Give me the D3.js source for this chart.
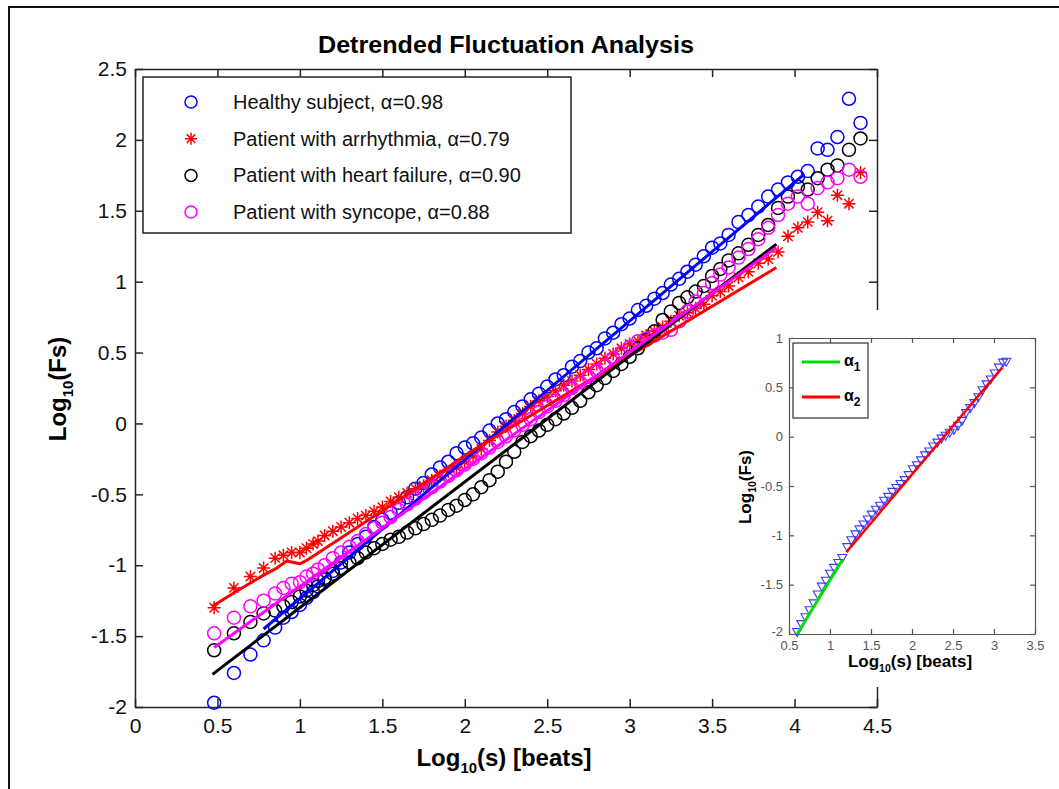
<!DOCTYPE html>
<html>
<head>
<meta charset="utf-8">
<script src="https://cdn.jsdelivr.net/npm/d3@7"></script>
<style>
  body { margin: 0; background: #fff; }
  svg { display: block; font-family: "Liberation Sans", Arial, sans-serif; }
</style>
</head>
<body>
<div class="chart-container"></div>
<script>
// ---- data ----
// shared log10(s) grid for the four DFA curves
const logS = [0.48, 0.60, 0.70, 0.78, 0.85, 0.90, 0.95, 1.00, 1.04, 1.08, 1.11,
  1.15, 1.20, 1.25, 1.30, 1.35, 1.40, 1.45, 1.50, 1.55, 1.60, 1.65, 1.70, 1.75, 1.80, 1.85,
  1.90, 1.95, 2.00, 2.05, 2.10, 2.15, 2.20, 2.25, 2.30, 2.35, 2.40, 2.45, 2.50, 2.55, 2.60,
  2.65, 2.70, 2.75, 2.80, 2.85, 2.90, 2.95, 3.00, 3.05, 3.10, 3.15, 3.20, 3.25, 3.30, 3.35,
  3.40, 3.45, 3.50, 3.55, 3.60,
  3.66, 3.72, 3.78, 3.84, 3.90, 3.96, 4.02, 4.08, 4.14, 4.20, 4.26, 4.33, 4.40];

const healthy = [-1.97, -1.76, -1.63, -1.53, -1.44, -1.37, -1.33, -1.28, -1.23, -1.19, -1.15,
  -1.10, -1.04, -0.98, -0.91, -0.85, -0.80, -0.73, -0.68, -0.63, -0.56, -0.52, -0.46, -0.42, -0.36, -0.31,
  -0.27, -0.21, -0.17, -0.14, -0.10, -0.05, 0.00, 0.03, 0.08, 0.12, 0.17, 0.21, 0.26, 0.31, 0.34,
  0.40, 0.44, 0.50, 0.53, 0.60, 0.64, 0.70, 0.74, 0.80, 0.83, 0.88, 0.92, 0.98, 1.02, 1.07,
  1.12, 1.18, 1.24, 1.27, 1.33,
  1.42, 1.47, 1.53, 1.60, 1.65, 1.70, 1.74, 1.78, 1.94, 1.93, 2.02, 2.29, 2.12];

const arrhythmia = [-1.30, -1.16, -1.08, -1.02, -0.95, -0.93, -0.91, -0.91, -0.88, -0.85, -0.83,
  -0.79, -0.76, -0.73, -0.70, -0.67, -0.65, -0.62, -0.59, -0.55, -0.52, -0.49, -0.46, -0.44, -0.40, -0.37,
  -0.34, -0.31, -0.27, -0.23, -0.18, -0.12, -0.06, -0.02, 0.02, 0.07, 0.12, 0.16, 0.19, 0.23, 0.27,
  0.30, 0.34, 0.38, 0.42, 0.46, 0.49, 0.53, 0.56, 0.58, 0.62, 0.65, 0.68, 0.72, 0.76, 0.78,
  0.81, 0.84, 0.90, 0.93, 0.97,
  1.03, 1.07, 1.13, 1.16, 1.21, 1.32, 1.38, 1.42, 1.49, 1.43, 1.61, 1.55, 1.77];

const heartFailure = [-1.60, -1.48, -1.40, -1.34, -1.32, -1.29, -1.26, -1.22, -1.18, -1.14, -1.11,
  -1.09, -1.06, -1.02, -0.98, -0.95, -0.91, -0.88, -0.85, -0.82, -0.80, -0.77, -0.74, -0.71, -0.68, -0.65,
  -0.61, -0.58, -0.54, -0.50, -0.45, -0.40, -0.34, -0.27, -0.20, -0.13, -0.09, -0.05, -0.01, 0.03, 0.07,
  0.11, 0.16, 0.22, 0.27, 0.32, 0.37, 0.42, 0.47, 0.53, 0.59, 0.65, 0.73, 0.79, 0.85, 0.89,
  0.93, 0.97, 1.04, 1.09, 1.15,
  1.20, 1.26, 1.33, 1.40, 1.52, 1.60, 1.67, 1.65, 1.73, 1.79, 1.82, 1.93, 2.01];

const syncope = [-1.48, -1.37, -1.29, -1.25, -1.20, -1.16, -1.13, -1.12, -1.08, -1.06, -1.03,
  -1.00, -0.95, -0.91, -0.87, -0.83, -0.78, -0.74, -0.70, -0.66, -0.61, -0.57, -0.53, -0.49, -0.45, -0.41,
  -0.37, -0.33, -0.29, -0.25, -0.21, -0.17, -0.13, -0.09, -0.05, -0.01, 0.03, 0.08, 0.12, 0.16, 0.20,
  0.25, 0.29, 0.33, 0.37, 0.41, 0.46, 0.50, 0.54, 0.58, 0.60, 0.62, 0.64, 0.66, 0.72, 0.79,
  0.86, 0.92, 0.99, 1.05, 1.10,
  1.17, 1.23, 1.30, 1.38, 1.47, 1.55, 1.60, 1.55, 1.66, 1.70, 1.73, 1.79, 1.74];

// fitted lines, [log10(s), log10(Fs)] vertices
const healthyFit = [[0.78, -1.45], [4.05, 1.75]];
const arrhythmiaFit = [[0.47, -1.29], [0.62, -1.18], [0.78, -1.07], [0.86, -1.02], [0.92, -0.97],
  [1.00, -0.99], [1.05, -0.96], [1.60, -0.54], [2.05, -0.19], [3.89, 1.10]];
const heartFailureFit = [[0.47, -1.77], [3.89, 1.265]];
const syncopeFit = [[0.48, -1.58], [3.89, 1.24]];

const legendLabels = ["Healthy subject, α=0.98", "Patient with arrhythmia, α=0.79",
  "Patient with heart failure, α=0.90", "Patient with syncope, α=0.88"];

// inset: one subject, short-range (alpha1) and long-range (alpha2) parts
const insetShortX = [0.60, 0.65, 0.70, 0.75, 0.80, 0.85, 0.90, 0.95, 1.00, 1.05, 1.10, 1.15];
const insetShortY = [-1.98, -1.90, -1.83, -1.76, -1.69, -1.60, -1.52, -1.46, -1.39, -1.33, -1.28, -1.23];
const insetLongX = [1.21, 1.26, 1.31, 1.36, 1.41, 1.46, 1.51, 1.56, 1.61, 1.66, 1.71, 1.76, 1.81, 1.86,
  1.91, 1.96, 2.01, 2.06, 2.11, 2.16, 2.21, 2.26, 2.31, 2.36, 2.41, 2.46, 2.51, 2.56, 2.61, 2.66,
  2.71, 2.76, 2.81, 2.86, 2.91, 2.96, 3.01, 3.06, 3.11, 3.15];
const insetLongY = [-1.12, -1.05, -0.99, -0.94, -0.89, -0.84, -0.79, -0.74, -0.70, -0.65, -0.61, -0.56,
  -0.52, -0.48, -0.44, -0.39, -0.33, -0.29, -0.24, -0.19, -0.15, -0.10, -0.06, -0.02, 0.01, 0.04,
  0.07, 0.11, 0.16, 0.24, 0.29, 0.34, 0.40, 0.47, 0.53, 0.58, 0.64, 0.70, 0.75, 0.76];
const alpha1Fit = [[0.60, -2.00], [1.15, -1.25]];
const alpha2Fit = [[1.20, -1.17], [3.10, 0.70]];

const mainXTicks = [0, 0.5, 1, 1.5, 2, 2.5, 3, 3.5, 4, 4.5];
const mainYTicks = [-2, -1.5, -1, -0.5, 0, 0.5, 1, 1.5, 2, 2.5];
const insetXTicks = [0.5, 1, 1.5, 2, 2.5, 3, 3.5];
const insetYTicks = [-2, -1.5, -1, -0.5, 0, 0.5, 1];

// ---- svg ----
const width = 1059, height = 789;
const svg = d3.select(".chart-container")
  .append("svg")
  .attr("width", width)
  .attr("height", height);

svg.append("rect").attr("width", width).attr("height", height).attr("fill", "#fff");

// outer figure frame (only top and left edges show)
svg.append("path")
  .attr("d", `M9,${height} V7 H${width}`)
  .attr("fill", "none")
  .attr("stroke", "#111")
  .attr("stroke-width", 2);

// ---- main axes ----
const box = {left: 135, right: 877, top: 69, bottom: 707};

const xScale = d3.scaleLinear().domain([0, 4.5]).range([box.left, box.right]);
const yScale = d3.scaleLinear().domain([-2, 2.5]).range([box.bottom, box.top]);
const fmt = d => String(d);

const styleAxis = (g, fontSize) => {
  g.select(".domain").attr("stroke", "#222").attr("stroke-width", 1.5);
  g.selectAll(".tick line").attr("stroke", "#222").attr("stroke-width", 1.5);
  g.selectAll(".tick text")
    .attr("fill", "#111")
    .attr("font-size", fontSize)
    .attr("font-family", "'Liberation Sans', Arial, sans-serif");
};

svg.append("g")
  .attr("transform", `translate(0,${box.bottom})`)
  .call(d3.axisBottom(xScale).tickValues(mainXTicks).tickFormat(fmt).tickSize(-8).tickSizeOuter(0).tickPadding(11))
  .call(g => styleAxis(g, 21));

svg.append("g")
  .attr("transform", `translate(${box.left},0)`)
  .call(d3.axisLeft(yScale).tickValues(mainYTicks).tickFormat(fmt).tickSize(-8).tickSizeOuter(0).tickPadding(8))
  .call(g => styleAxis(g, 21));

svg.append("g")
  .attr("transform", `translate(0,${box.top})`)
  .call(d3.axisTop(xScale).tickValues(mainXTicks).tickFormat("").tickSize(-8).tickSizeOuter(0))
  .call(g => styleAxis(g, 21));

svg.append("g")
  .attr("transform", `translate(${box.right},0)`)
  .call(d3.axisRight(yScale).tickValues(mainYTicks).tickFormat("").tickSize(-8).tickSizeOuter(0))
  .call(g => styleAxis(g, 21));

// ---- markers ----
const plot = svg.append("g");

const circleSeries = (vals, color) => {
  plot.append("g")
    .selectAll("circle")
    .data(d3.zip(logS, vals))
    .join("circle")
      .attr("cx", d => xScale(d[0]))
      .attr("cy", d => yScale(d[1]))
      .attr("r", 6.5)
      .attr("fill", "none")
      .attr("stroke", color)
      .attr("stroke-width", 1.5);
};

// matlab style '*' marker
const starPath = s => {
  const k = s * 0.72;
  return `M${-s},0H${s}M0,${-s}V${s}M${-k},${-k}L${k},${k}M${-k},${k}L${k},${-k}`;
};

circleSeries(healthy, "#0000ff");

plot.append("g")
  .selectAll("path")
  .data(d3.zip(logS, arrhythmia))
  .join("path")
    .attr("transform", d => `translate(${xScale(d[0])},${yScale(d[1])})`)
    .attr("d", starPath(6.5))
    .attr("stroke", "#ff0000")
    .attr("stroke-width", 1.5);

circleSeries(heartFailure, "#000000");
circleSeries(syncope, "#ff00ff");

// ---- fitted lines ----
const lineGenerator = d3.line()
  .x(d => xScale(d[0]))
  .y(d => yScale(d[1]));

[[healthyFit, "#0000ff"], [arrhythmiaFit, "#ff0000"], [heartFailureFit, "#000000"], [syncopeFit, "#ff00ff"]]
  .forEach(([pts, color]) => {
    plot.append("path")
      .attr("d", lineGenerator(pts))
      .attr("fill", "none")
      .attr("stroke", color)
      .attr("stroke-width", 3)
      .attr("stroke-linejoin", "round");
  });

// ---- legend ----
const legend = svg.append("g");
legend.append("rect")
  .attr("x", 143).attr("y", 77)
  .attr("width", 428).attr("height", 156)
  .attr("fill", "#fff")
  .attr("stroke", "#222")
  .attr("stroke-width", 1.5);

const legendColors = ["#0000ff", "#ff0000", "#000000", "#ff00ff"];
legendLabels.forEach((label, i) => {
  const y = 102 + i * 36.7;
  if (i === 1) {
    legend.append("path")
      .attr("transform", `translate(191,${y})`)
      .attr("d", starPath(6))
      .attr("stroke", legendColors[i])
      .attr("stroke-width", 1.5);
  } else {
    legend.append("circle")
      .attr("cx", 191).attr("cy", y).attr("r", 6)
      .attr("fill", "none")
      .attr("stroke", legendColors[i])
      .attr("stroke-width", 1.5);
  }
  legend.append("text")
    .attr("x", 233).attr("y", y)
    .attr("dominant-baseline", "central")
    .attr("font-size", 20)
    .attr("fill", "#111")
    .text(label);
});

// ---- titles and axis labels ----
svg.append("text")
  .attr("x", 506).attr("y", 53)
  .attr("text-anchor", "middle")
  .attr("font-size", 23)
  .attr("font-weight", "bold")
  .attr("textLength", 376)
  .attr("lengthAdjust", "spacingAndGlyphs")
  .text("Detrended Fluctuation Analysis");

const subLabel = (sel, main, sub, rest, size) => {
  sel.append("tspan").text(main);
  sel.append("tspan").attr("font-size", size * 0.62).attr("dy", size * 0.3).text(sub);
  sel.append("tspan").attr("dy", -size * 0.3).text(rest);
};

svg.append("text")
  .attr("x", 504).attr("y", 766)
  .attr("text-anchor", "middle")
  .attr("font-size", 24)
  .attr("font-weight", "bold")
  .call(t => subLabel(t, "Log", "10", "(s) [beats]", 24));

svg.append("text")
  .attr("transform", "translate(66,389) rotate(-90)")
  .attr("text-anchor", "middle")
  .attr("font-size", 24)
  .attr("font-weight", "bold")
  .call(t => subLabel(t, "Log", "10", "(Fs)", 24));

// ---- inset ----
const inset = svg.append("g");
inset.append("rect")
  .attr("x", 733).attr("y", 310)
  .attr("width", width - 733).attr("height", 377)
  .attr("fill", "#fff");

const ibox = {left: 789, right: 1035, top: 338, bottom: 634};
const ix = d3.scaleLinear().domain([0.5, 3.5]).range([ibox.left, ibox.right]);
const iy = d3.scaleLinear().domain([-2, 1]).range([ibox.bottom, ibox.top]);

const styleInset = g => {
  g.select(".domain").attr("stroke", "#555").attr("stroke-width", 1.2);
  g.selectAll(".tick line").attr("stroke", "#555").attr("stroke-width", 1.2);
  g.selectAll(".tick text")
    .attr("fill", "#555")
    .attr("font-size", 13)
    .attr("font-family", "'Liberation Sans', Arial, sans-serif");
};

inset.append("g")
  .attr("transform", `translate(0,${ibox.bottom})`)
  .call(d3.axisBottom(ix).tickValues(insetXTicks).tickFormat(fmt).tickSize(-5).tickSizeOuter(0).tickPadding(7))
  .call(styleInset);
inset.append("g")
  .attr("transform", `translate(${ibox.left},0)`)
  .call(d3.axisLeft(iy).tickValues(insetYTicks).tickFormat(fmt).tickSize(-5).tickSizeOuter(0).tickPadding(6))
  .call(styleInset)
  .call(g => g.selectAll(".tick text").filter(d => d === -2).attr("dy", "0.1em"));
inset.append("g")
  .attr("transform", `translate(0,${ibox.top})`)
  .call(d3.axisTop(ix).tickValues(insetXTicks).tickFormat("").tickSize(-5).tickSizeOuter(0))
  .call(styleInset);
inset.append("g")
  .attr("transform", `translate(${ibox.right},0)`)
  .call(d3.axisRight(iy).tickValues(insetYTicks).tickFormat("").tickSize(-5).tickSizeOuter(0))
  .call(styleInset);

// downward triangles
const triangle = "M-4.5,-3.5L4.5,-3.5L0,4.5Z";
inset.append("g")
  .selectAll("path")
  .data(d3.zip(insetShortX, insetShortY).concat(d3.zip(insetLongX, insetLongY)))
  .join("path")
    .attr("transform", d => `translate(${ix(d[0])},${iy(d[1])})`)
    .attr("d", triangle)
    .attr("fill", "none")
    .attr("stroke", "#3a3aff")
    .attr("stroke-width", 1.1);

const insetLine = d3.line().x(d => ix(d[0])).y(d => iy(d[1]));
inset.append("path").attr("d", insetLine(alpha1Fit))
  .attr("stroke", "#00e000").attr("stroke-width", 3).attr("fill", "none");
inset.append("path").attr("d", insetLine(alpha2Fit))
  .attr("stroke", "#ff0000").attr("stroke-width", 2.5).attr("fill", "none");

// inset legend
inset.append("rect")
  .attr("x", 793).attr("y", 343)
  .attr("width", 75).attr("height", 75)
  .attr("fill", "#fff")
  .attr("stroke", "#333")
  .attr("stroke-width", 1.2);
[[362, "#00e000", "1"], [397, "#ff0000", "2"]].forEach(([y, color, sub]) => {
  inset.append("line")
    .attr("x1", 802).attr("x2", 840)
    .attr("y1", y).attr("y2", y)
    .attr("stroke", color).attr("stroke-width", 3);
  const t = inset.append("text")
    .attr("x", 844).attr("y", y + 4)
    .attr("font-size", 16)
    .attr("font-weight", "bold");
  t.append("tspan").text("α");
  t.append("tspan").attr("font-size", 12).attr("dy", 5).text(sub);
});

inset.append("text")
  .attr("x", 910).attr("y", 667)
  .attr("text-anchor", "middle")
  .attr("font-size", 17)
  .attr("font-weight", "bold")
  .call(t => subLabel(t, "Log", "10", "(s) [beats]", 17));

inset.append("text")
  .attr("transform", "translate(751,487) rotate(-90)")
  .attr("text-anchor", "middle")
  .attr("font-size", 17)
  .attr("font-weight", "bold")
  .call(t => subLabel(t, "Log", "10", "(Fs)", 17));
</script>
</body>
</html>
